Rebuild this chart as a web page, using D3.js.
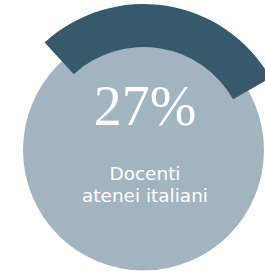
<!DOCTYPE html>
<html><head><meta charset="utf-8">
<script src="https://cdn.jsdelivr.net/npm/d3@7"></script>
<style>html,body{margin:0;padding:0;background:#fff;overflow:hidden}</style>
</head><body>
<svg id="chart" width="265" height="271"></svg>
<script>
// ---- data ----
const percentValue = 27;           // share shown
const percentLabel = ["27%"];
const captionLines = ["Docenti", "atenei italiani"];

const W = 265, H = 271;
const cx = 143.5, cy = 150;
const rCircle = 120.5, rInner = 103, rOuter = 146;
const startDeg = -42.6;

const svg = d3.select("#chart");
const g = svg.append("g").attr("transform", `translate(${cx},${cy})`);

g.append("circle").attr("r", rCircle).attr("fill", "#a3b4c1");

// angle scale: value -> sweep (visual sweep in the reference is slightly wider)
const angle = d3.scaleLinear().domain([0, 100]).range([0, 2 * Math.PI * 1.06]);
const a0 = startDeg * Math.PI / 180;
const arc = d3.arc().innerRadius(rInner).outerRadius(rOuter);
g.append("path")
  .datum({startAngle: a0, endAngle: a0 + angle(percentValue)})
  .attr("d", arc).attr("fill", "#37596c");

g.append("text").text(percentLabel[0])
  .attr("x", 1.5).attr("y", -25)
  .attr("text-anchor", "middle")
  .attr("font-family", "'Liberation Serif', 'DejaVu Serif', serif")
  .attr("font-size", 56).attr("fill", "#fff");

const cap = g.append("text")
  .attr("text-anchor", "middle")
  .attr("font-family", "'DejaVu Sans', 'Open Sans', sans-serif")
  .attr("font-size", 16).attr("fill", "#fff");
captionLines.forEach((t, i) => {
  cap.append("tspan").attr("x", 1.5).attr("y", 30 + i * 22).text(t);
});
// fit caption width to reference (~126px for second line)
const tsp = cap.selectAll("tspan").nodes();
const w2 = tsp[1].getComputedTextLength();
cap.attr("font-size", 16 * 126 / w2);
</script>
</body></html>
